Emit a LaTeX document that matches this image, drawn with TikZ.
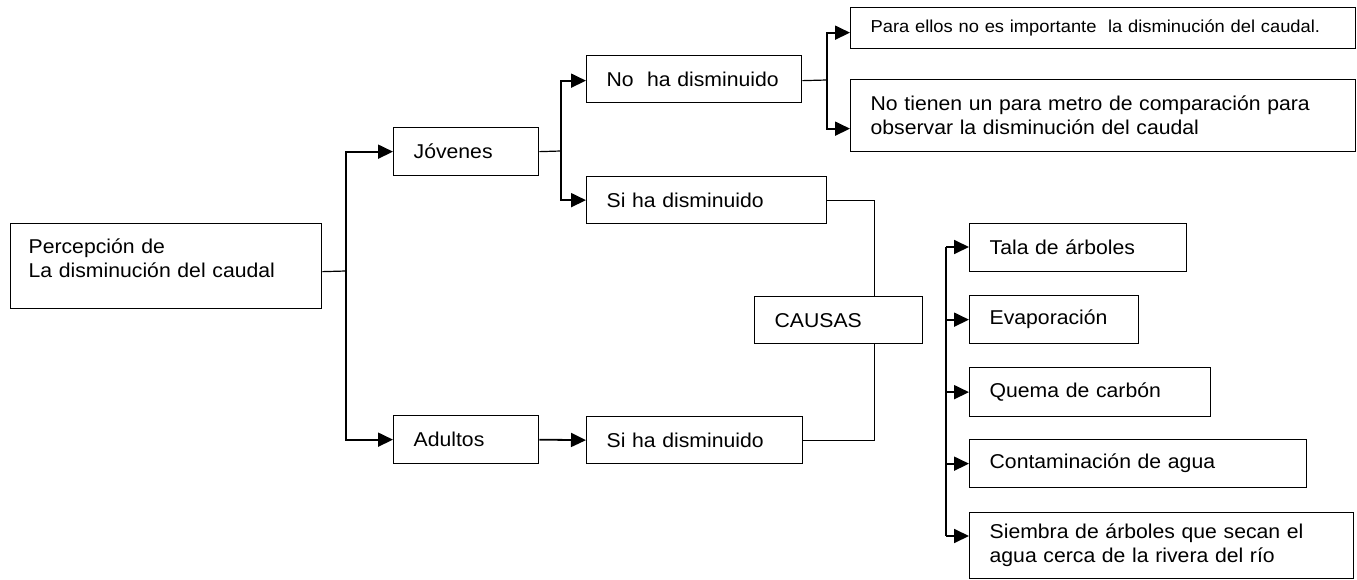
\documentclass[tikz,border=0pt]{standalone}
\usepackage{fontspec}
\setmainfont{Liberation Sans}[FakeStretch=1.06]
\usetikzlibrary{arrows.meta}
\begin{document}
\begin{tikzpicture}[x=1pt,y=-1pt,
  bx/.style={draw, line width=1.3pt, anchor=north west, inner xsep=20pt, inner ysep=0pt, align=left,
    font=\fontsize{20}{24}\selectfont},
  ln/.style={line width=1.2pt},
  bus/.style={line width=1.6pt},
  arr/.style={line width=1.8pt, -{Triangle[length=15pt,width=14pt]}}]
\useasboundingbox (0,0) rectangle (1357,580);
% boxes
\node[bx, inner xsep=18pt, text width=275pt, minimum height=85pt] (perc) at (10,223)
  {Percepción de\\La disminución del caudal\rule[-16pt]{0pt}{0pt}};
\node[bx, text width=105pt, minimum height=48pt] (jov) at (393,127) {Jóvenes};
\node[bx, text width=105pt, minimum height=48pt] (adu) at (393,415) {Adultos};
\node[bx, text width=175pt, minimum height=47pt] (noha) at (586,55) {No\ \ ha disminuido};
\node[bx, text width=200pt, minimum height=47pt] (sitop) at (586,176) {Si ha disminuido};
\node[bx, text width=176pt, minimum height=47pt] (sibot) at (586,416) {Si ha disminuido};
\node[bx, text width=465pt, minimum height=41pt, font=\fontsize{17.3}{20}\selectfont] (para) at (850,7)
  {\mbox{Para ellos no es importante\ \ la disminución del caudal.}};
\node[bx, text width=465pt, minimum height=72pt] (notien) at (850,79)
  {No tienen un para metro de comparación para\\observar la disminución del caudal};
\node[bx, text width=128pt, minimum height=47pt] (causas) at (754,296) {CAUSAS};
\node[bx, text width=177pt, minimum height=48pt] (tala) at (969,223) {Tala de árboles};
\node[bx, text width=129pt, minimum height=48pt] (evap) at (969,295) {Evaporación};
\node[bx, text width=201pt, minimum height=49pt] (quema) at (969,367) {Quema de carbón};
\node[bx, text width=297pt, minimum height=48pt] (conta) at (969,439) {Contaminación de agua};
\node[bx, text width=344pt, minimum height=66pt] (siem) at (969,512)
  {Siembra de árboles que secan el\\agua cerca de la rivera del río};
% branch points
\coordinate (b1) at (346,271);
\coordinate (b2) at (561,151);
\coordinate (b3) at (827,80);
\coordinate (bt) at (946,247);
\coordinate (bb) at (946,536);
% connectors
\draw[ln] ([yshift=-5.5pt]perc.east) -- (b1);
\draw[arr] (b1) |- (jov.west);
\draw[arr] (b1) |- (adu.west);
\draw[ln] (jov.east) -- (b2);
\draw[arr] (b2) |- ([yshift=-1.5pt]noha.west);
\draw[arr] (b2) |- (sitop.west);
\draw[ln] ([yshift=-1.5pt]noha.east) -- (b3);
\draw[arr] (b3) |- ([yshift=-4.5pt]para.west);
\draw[arr] (b3) |- ([yshift=-13pt]notien.west);
\draw[ln] (sitop.east) -| ([xshift=36pt]causas.north);
\draw[ln] (sibot.east) -| ([xshift=36pt]causas.south);
\draw[arr] (adu.east) -- (sibot.west);
\draw[bus] (bt) -- (bb);
\draw[arr] (bt) -- (bt -| tala.west);
\draw[arr] (bt |- evap.west) -- (evap.west);
\draw[arr] (bt |- quema.west) -- (quema.west);
\draw[arr] (bt |- conta.west) -- (conta.west);
\draw[arr] (bb) -- (bb -| siem.west);
\end{tikzpicture}
\end{document}
